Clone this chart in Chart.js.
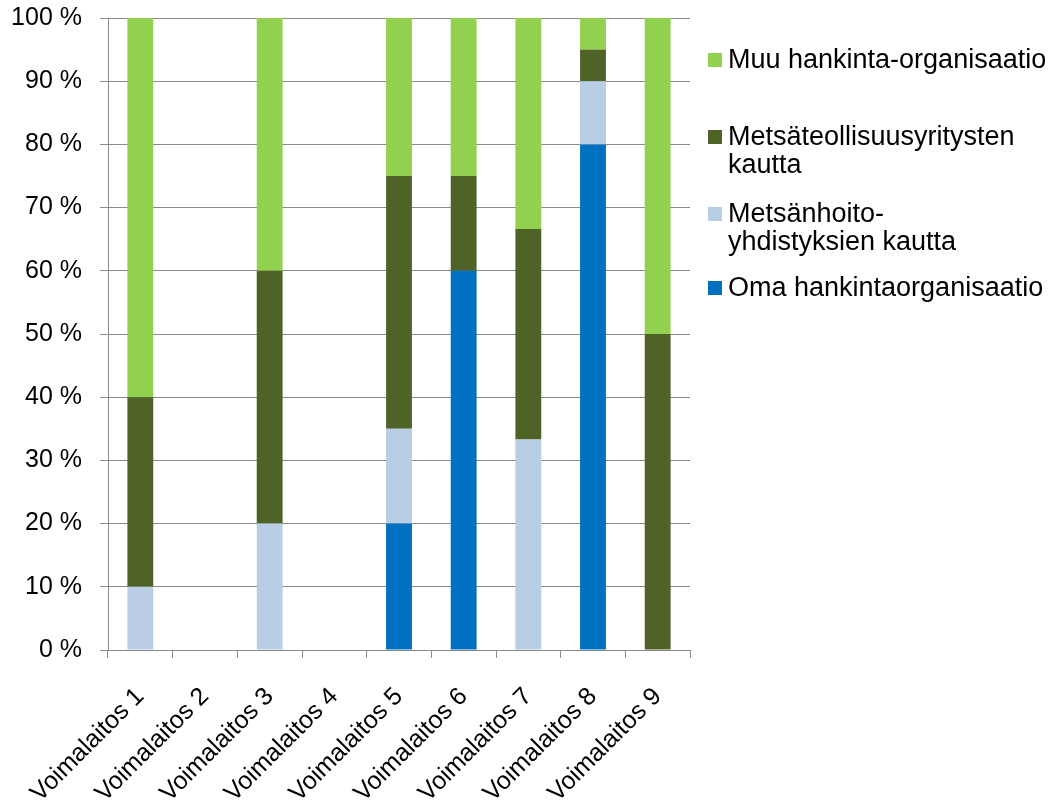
<!DOCTYPE html>
<html>
<head>
<meta charset="utf-8">
<script src="https://cdn.jsdelivr.net/npm/chart.js@4.4.0/dist/chart.umd.min.js"></script>
<style>
  html, body { margin: 0; padding: 0; background: #fff; }
  #wrap { width: 1049px; height: 805px; }
</style>
</head>
<body>
<div id="wrap"><canvas id="chart" width="1049" height="805"></canvas></div>
<script>
const categories = ["Voimalaitos 1", "Voimalaitos 2", "Voimalaitos 3", "Voimalaitos 4", "Voimalaitos 5",
  "Voimalaitos 6", "Voimalaitos 7", "Voimalaitos 8", "Voimalaitos 9"];

// shares in percent, bottom of the stack first
const omaHankinta = [0, 0, 0, 0, 20, 60, 0, 80, 0];
const metsanhoito = [10, 0, 20, 0, 15, 0, 33.3, 10, 0];
const metsateollisuus = [30, 0, 40, 0, 40, 15, 33.3, 5, 50];
const muuHankinta = [60, 0, 40, 0, 25, 25, 33.4, 5, 50];

const yTicks = [0, 10, 20, 30, 40, 50, 60, 70, 80, 90, 100];

const seriesNames = ["Oma hankintaorganisaatio", "Metsänhoito-\nyhdistyksien kautta",
  "Metsäteollisuusyritysten\nkautta", "Muu hankinta-organisaatio"];
const seriesColors = ["#0070c0", "#b9cde5", "#4f6228", "#92d050"];

const FONT = "'Liberation Sans', Arial, sans-serif";
const gridColor = "#8a8a8a";

// legend on the right, top entry = top of the stack
const sideLegend = {
  id: "sideLegend",
  afterDraw(chart) {
    const ctx = chart.ctx;
    const area = chart.chartArea;
    const x = area.right + 18;
    const rows = [60, 137, 214, 288];
    ctx.save();
    ctx.font = "27px " + FONT;
    ctx.textBaseline = "middle";
    for (let i = 0; i < 4; i++) {
      const d = 3 - i;
      const y = rows[i];
      ctx.fillStyle = seriesColors[d];
      ctx.fillRect(x, y - 7, 14, 14);
      ctx.fillStyle = "#000";
      seriesNames[d].split("\n").forEach((line, k) => {
        ctx.fillText(line, x + 20, y + 1 + k * 28);
      });
    }
    ctx.restore();
  }
};

const dataSets = [omaHankinta, metsanhoito, metsateollisuus, muuHankinta].map((values, i) => ({
  label: seriesNames[i].replace("\n", " "),
  data: values,
  backgroundColor: seriesColors[i],
  borderWidth: 0,
  barPercentage: 0.4,
  categoryPercentage: 1
}));

new Chart(document.getElementById("chart"), {
  type: "bar",
  data: { labels: categories, datasets: dataSets },
  plugins: [sideLegend],
  options: {
    responsive: false,
    animation: false,
    layout: { padding: { top: 18, right: 359, left: 0, bottom: 0 } },
    plugins: { legend: { display: false }, tooltip: { enabled: false } },
    scales: {
      x: {
        stacked: true,
        afterFit(scale) { scale.height = 155; },
        grid: { drawOnChartArea: false, drawTicks: true, tickLength: 8, color: gridColor, offset: true },
        border: { color: gridColor },
        ticks: {
          color: "#000",
          font: { family: FONT, size: 25 },
          minRotation: 45,
          maxRotation: 45,
          autoSkip: false,
          padding: 24
        }
      },
      y: {
        stacked: true,
        min: 0,
        max: 100,
        afterFit(scale) {
          scale.width = 108;
          scale.paddingTop = 0;
          scale.paddingBottom = 0;
        },
        afterBuildTicks(scale) { scale.ticks = yTicks.map(v => ({ value: v })); },
        grid: { color: gridColor, tickLength: 8 },
        border: { color: gridColor },
        ticks: {
          color: "#000",
          font: { family: FONT, size: 25 },
          padding: 18,
          callback: v => v + " %"
        }
      }
    }
  }
});
</script>
</body>
</html>
